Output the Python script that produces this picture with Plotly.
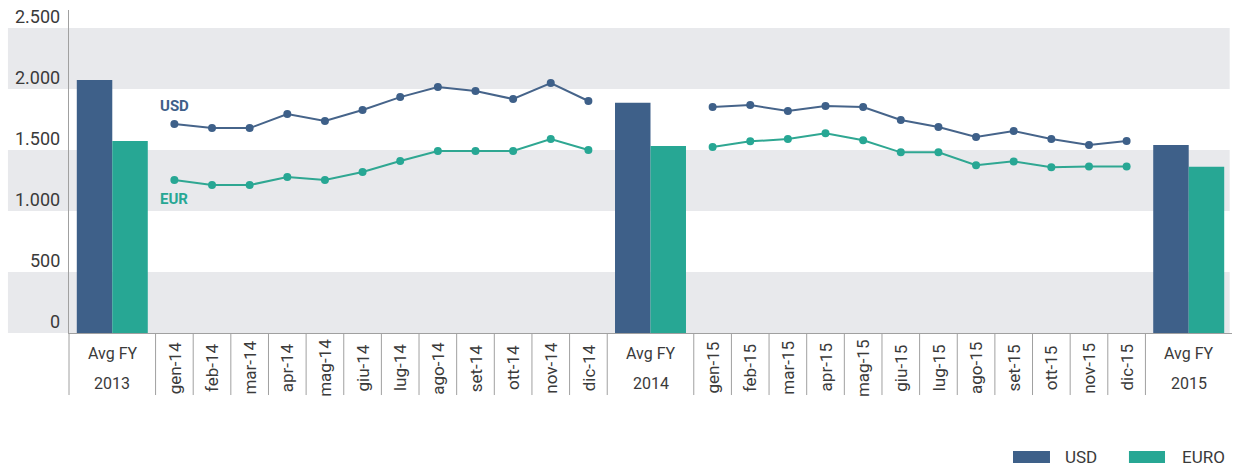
import plotly.graph_objects as go

# ---------------- data ----------------
avg_years = ["2013", "2014", "2015"]
months_2014 = ["gen-14", "feb-14", "mar-14", "apr-14", "mag-14", "giu-14",
               "lug-14", "ago-14", "set-14", "ott-14", "nov-14", "dic-14"]
months_2015 = ["gen-15", "feb-15", "mar-15", "apr-15", "mag-15", "giu-15",
               "lug-15", "ago-15", "set-15", "ott-15", "nov-15", "dic-15"]

avg_usd = [2074, 1887, 1541]
avg_eur = [1574, 1533, 1363]

usd_2014 = [1713, 1680, 1680, 1795, 1738, 1828, 1934, 2016, 1984, 1918, 2049, 1902]
eur_2014 = [1254, 1213, 1213, 1279, 1254, 1320, 1410, 1492, 1492, 1492, 1590, 1500]
usd_2015 = [1852, 1869, 1820, 1861, 1852, 1746, 1689, 1607, 1656, 1590, 1541, 1574]
eur_2015 = [1525, 1571, 1590, 1637, 1580, 1481, 1481, 1375, 1407, 1358, 1366, 1366]

y_tick_vals = [0, 500, 1000, 1500, 2000, 2500]
y_tick_text = ["0", "500", "1.000", "1.500", "2.000", "2.500"]

# ---------------- styles ----------------
USD_C = "#3e6089"
EUR_C = "#27a794"
USD_LINE = "#46648a"
EUR_LINE = "#2fa792"
TEXT_C = "#3a3a3a"
BAND_C = "#e8e9ec"
SEP_C = "#a0a0a0"
FONT = "Roboto"

AVG_W = 2.3      # width of an "Avg FY" slot in month units
BAR_W = 0.943    # width of one bar

# build slots along a numeric x axis
seq = ([("avg", avg_years[0])] + [("m", m) for m in months_2014] +
       [("avg", avg_years[1])] + [("m", m) for m in months_2015] +
       [("avg", avg_years[2])])
edges, centers = [], []
pos = 0.0
for kind, lab in seq:
    w = AVG_W if kind == "avg" else 1.0
    edges.append(pos)
    centers.append(pos + w / 2)
    pos += w
total = pos

avg_x = [centers[0], centers[13], centers[26]]
x14 = centers[1:13]
x15 = centers[14:26]

fig = go.Figure()
fig.add_trace(go.Bar(x=avg_x, y=avg_usd, width=BAR_W, offset=-BAR_W,
                     marker=dict(color=USD_C, line=dict(width=0)), name="USD",
                     showlegend=False))
fig.add_trace(go.Bar(x=avg_x, y=avg_eur, width=BAR_W, offset=0,
                     marker=dict(color=EUR_C, line=dict(width=0)), name="EURO",
                     showlegend=False))
fig.add_trace(go.Scatter(x=x14 + [None] + x15, y=usd_2014 + [None] + usd_2015,
                         mode="lines+markers", line=dict(color=USD_LINE, width=2),
                         marker=dict(color=USD_C, size=8), showlegend=False))
fig.add_trace(go.Scatter(x=x14 + [None] + x15, y=eur_2014 + [None] + eur_2015,
                         mode="lines+markers", line=dict(color=EUR_LINE, width=2),
                         marker=dict(color=EUR_C, size=8), showlegend=False))

shapes = []
for lo in (0, 1000, 2000):
    shapes.append(dict(type="rect", xref="paper", yref="y", x0=-0.0525, x1=0.998,
                       y0=lo, y1=lo + 500, fillcolor=BAND_C, line=dict(width=0),
                       layer="below"))
shapes.append(dict(type="line", xref="paper", yref="paper", x0=0, x1=0,
                   y0=-0.192, y1=0, line=dict(color=SEP_C, width=1)))
for e in edges[1:]:
    shapes.append(dict(type="line", xref="x", yref="paper", x0=e, x1=e,
                       y0=-0.192, y1=0, line=dict(color=SEP_C, width=1)))

# legend drawn manually (wide swatches)
shapes.append(dict(type="rect", xref="paper", yref="paper", x0=0.8117, x1=0.8435,
                   y0=-0.4025, y1=-0.3653, fillcolor=USD_C, line=dict(width=0)))
shapes.append(dict(type="rect", xref="paper", yref="paper", x0=0.9114, x1=0.9424,
                   y0=-0.4025, y1=-0.3653, fillcolor=EUR_C, line=dict(width=0)))

annotations = []
# y-axis labels sit just above their value line
for v, t in zip(y_tick_vals, y_tick_text):
    annotations.append(dict(x=0, y=v, xref="paper", yref="y", text=t,
                            showarrow=False, xanchor="right", yanchor="middle",
                            xshift=-7, yshift=12, font=dict(size=18, color=TEXT_C)))

for (kind, lab), c in zip(seq, centers):
    if kind == "m":
        annotations.append(dict(x=c, y=-0.108, xref="x", yref="paper", text=lab,
                                textangle=-90, showarrow=False, xanchor="center",
                                yanchor="middle", font=dict(size=17, color=TEXT_C)))
    else:
        annotations.append(dict(x=c, y=-0.062, xref="x", yref="paper", text="Avg FY",
                                showarrow=False, xanchor="center", yanchor="middle",
                                font=dict(size=16, color=TEXT_C)))
        annotations.append(dict(x=c, y=-0.155, xref="x", yref="paper", text=lab,
                                showarrow=False, xanchor="center", yanchor="middle",
                                font=dict(size=16, color=TEXT_C)))

annotations.append(dict(x=x14[0], y=1861, xref="x", yref="y", text="<b>USD</b>",
                        showarrow=False, font=dict(size=15, color=USD_C)))
annotations.append(dict(x=x14[0], y=1098, xref="x", yref="y", text="<b>EUR</b>",
                        showarrow=False, font=dict(size=15, color=EUR_C)))
annotations.append(dict(x=0.8547, y=-0.384, xref="paper", yref="paper", text="USD",
                        showarrow=False, xanchor="left", yanchor="middle",
                        font=dict(size=17, color=TEXT_C)))
annotations.append(dict(x=0.9553, y=-0.384, xref="paper", yref="paper", text="EURO",
                        showarrow=False, xanchor="left", yanchor="middle",
                        font=dict(size=17, color=TEXT_C)))

fig.update_layout(
    width=1234, height=468,
    margin=dict(l=69, r=2, t=10, b=135),
    paper_bgcolor="white", plot_bgcolor="white",
    font=dict(family=FONT, color=TEXT_C),
    barmode="overlay",
    hovermode=False,
    shapes=shapes, annotations=annotations,
    xaxis=dict(range=[0, total], showticklabels=False, showgrid=False,
               zeroline=False, showline=True, linecolor=SEP_C, linewidth=1,
               fixedrange=True),
    yaxis=dict(range=[0, 2648], tickvals=y_tick_vals, showticklabels=False,
               showgrid=False, zeroline=False, showline=True, linecolor=SEP_C,
               linewidth=1, ticks="", fixedrange=True),
)

fig.write_html("out.html", config={"displayModeBar": False},
               post_script="document.body.style.margin='0px';"
                           "document.body.style.overflow='hidden';")
